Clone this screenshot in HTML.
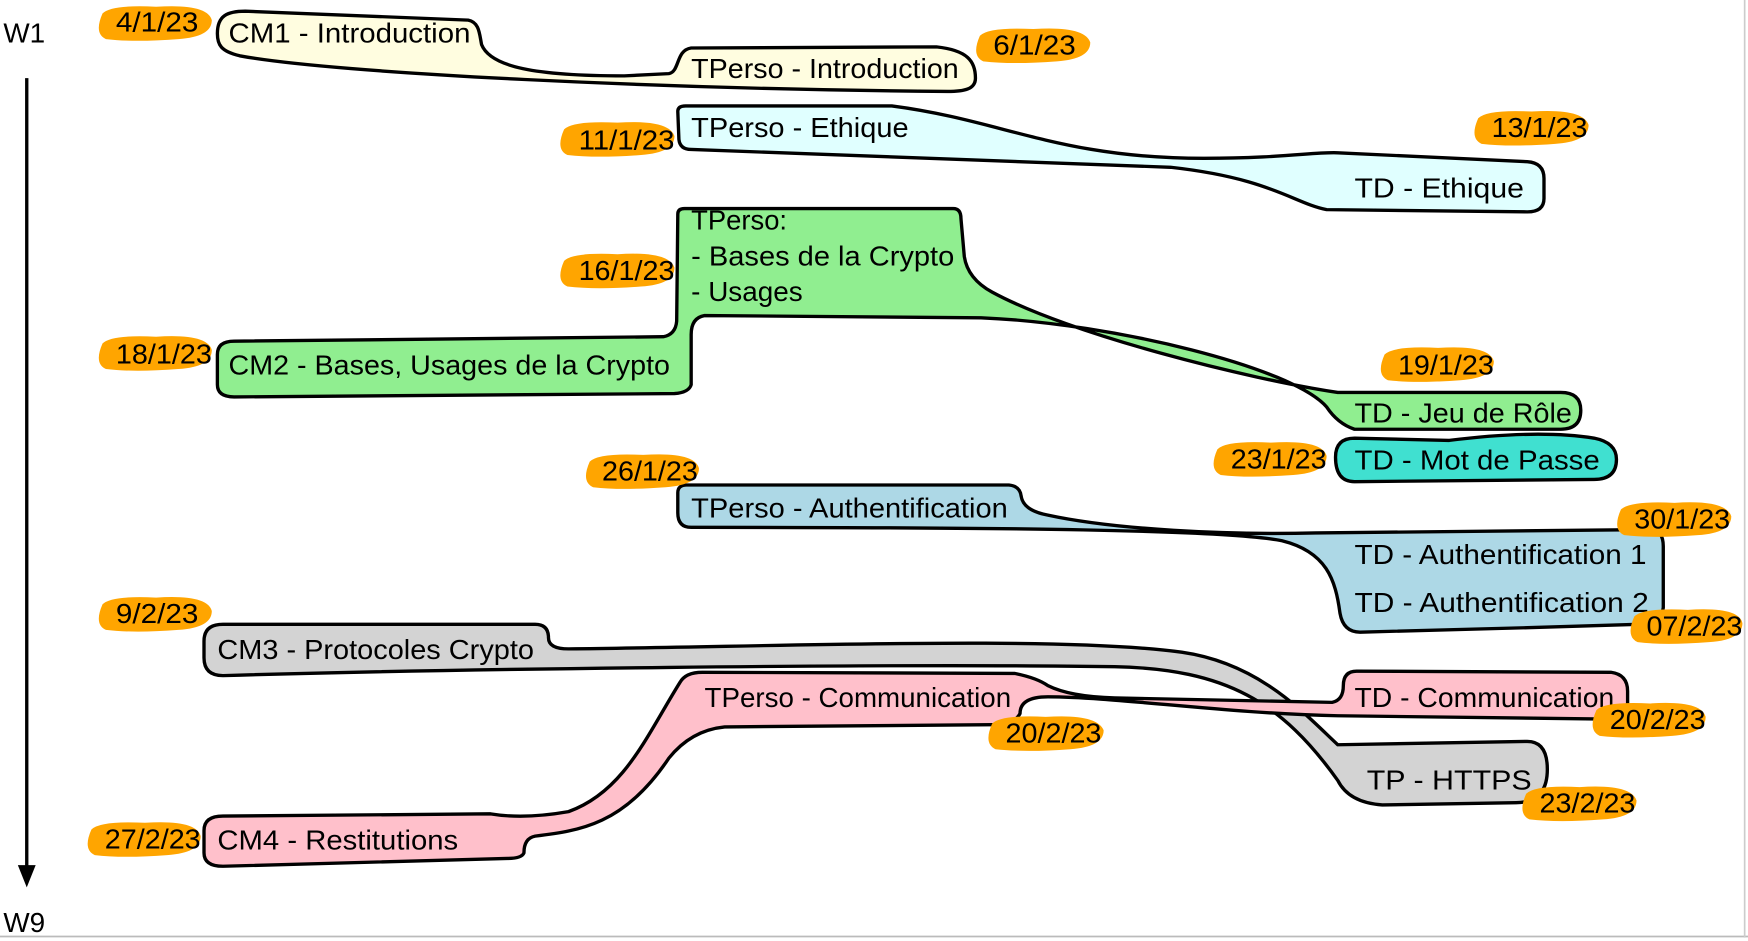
<!DOCTYPE html>
<html><head><meta charset="utf-8"><style>
html,body{margin:0;padding:0;background:#fff;}
svg{display:block}
text{font-family:"Liberation Sans Narrow","Liberation Sans",sans-serif;font-size:25px;fill:#000}
.s{stroke:#000;stroke-width:3;stroke-linejoin:round}
.d{fill:#ffa500}
</style></head><body>
<svg width="1748" height="941" viewBox="0 0 1568 844" xmlns="http://www.w3.org/2000/svg">
<line x1="0" y1="840" x2="1568" y2="840" stroke="#bbb" stroke-width="1.5"/>
<line x1="1565" y1="0" x2="1565" y2="841" stroke="#ccc" stroke-width="1.5"/>
<text x="3" y="38" font-size="24">W1</text>
<line x1="24" y1="70" x2="24" y2="778" stroke="#000" stroke-width="3"/>
<polygon points="16,776 32,776 24,796" fill="#000"/>
<text x="3" y="836" font-size="24">W9</text>

<path class="s" fill="#fffde0" d="M195,30 C195,14 204,10 220,10 L420,18 C430,20 430,30 432,40 C440,60 480,68 560,68 L600,66 C610,64 606,45 620,43 L840,42 C868,45 875,55 875,70 C875,80 865,82 850,82 C600,80 300,66 215,50 C198,46 195,40 195,30 Z"/>
<path class="s" fill="#e0ffff" d="M608,100 Q608,95 615,95 L800,95 C900,108 950,142 1080,142 C1150,142 1180,136 1200,137 L1370,145 Q1385,146 1385,160 L1385,178 Q1385,190 1370,190 L1190,188 C1160,182 1140,160 1050,150 L620,134 Q610,134 609,125 Z"/>
<path class="s" fill="#90ee90" d="M608,192 Q608,187 614,187 L855,187 Q862,187 862,196 L865,230 Q868,250 890,262 C960,300 1120,340 1200,352 L1400,352 Q1418,352 1418,368 Q1418,385 1400,385 L1215,385 Q1200,380 1190,365 C1160,330 1000,290 880,285 L632,283 Q620,285 620,300 L620,345 Q618,352 605,353 L210,356 Q195,356 195,345 L195,318 Q195,306 210,306 L595,302 Q606,300 607,288 Z"/>
<path class="s" fill="#40e0d0" d="M1198,410 Q1198,393 1215,393 L1300,395 Q1380,385 1430,393 Q1450,397 1450,412 Q1450,430 1430,430 L1215,432 Q1198,432 1198,410 Z"/>
<path class="s" fill="#add8e6" d="M608,442 Q608,435 616,435 L905,435 Q915,436 916,445 Q918,458 940,462 C1000,475 1100,480 1180,478 L1480,475 Q1492,475 1492,490 L1492,545 Q1490,560 1470,560 L1370,563 L1220,567 Q1205,567 1202,550 C1198,520 1190,495 1150,485 C1100,475 900,473 620,473 Q608,473 608,460 Z"/>
<path class="s" fill="#d3d3d3" d="M183,575 Q183,560 200,560 L480,560 Q492,560 492,572 Q492,582 510,582 C700,580 950,570 1060,585 C1130,595 1170,640 1200,668 L1370,665 Q1388,665 1388,690 Q1388,720 1360,720 L1240,722 Q1210,720 1200,700 C1150,630 1100,600 1000,598 C800,595 400,600 200,606 Q183,606 183,590 Z"/>
<path class="s" fill="#ffc0cb" d="M183,745 Q183,732 200,732 L440,730 Q470,735 510,728 C560,710 580,660 610,612 Q615,603 630,603 L910,604 Q930,608 940,615 Q960,625 1000,626 L1195,630 Q1205,628 1205,615 Q1205,602 1217,602 L1445,603 Q1460,605 1460,620 L1460,640 Q1460,645 1440,645 L1200,642 C1100,640 1000,625 940,625 Q915,625 915,640 Q910,650 890,650 L650,652 Q620,655 600,680 C560,740 520,745 480,750 Q470,752 470,765 Q468,770 455,770 L200,777 Q183,777 183,765 Z"/>

<text x="205" y="38" textLength="217" lengthAdjust="spacingAndGlyphs">CM1 - Introduction</text>
<text x="620" y="70" textLength="240" lengthAdjust="spacingAndGlyphs">TPerso - Introduction</text>
<text x="620" y="123" textLength="195" lengthAdjust="spacingAndGlyphs">TPerso - Ethique</text>
<text x="1215" y="177" textLength="152" lengthAdjust="spacingAndGlyphs">TD - Ethique</text>
<text x="620" y="206" textLength="86" lengthAdjust="spacingAndGlyphs">TPerso:</text>
<text x="620" y="238" textLength="236" lengthAdjust="spacingAndGlyphs">- Bases de la Crypto</text>
<text x="620" y="270" textLength="100" lengthAdjust="spacingAndGlyphs">- Usages</text>
<text x="205" y="336" textLength="396" lengthAdjust="spacingAndGlyphs">CM2 - Bases, Usages de la Crypto</text>
<text x="1215" y="379" textLength="195" lengthAdjust="spacingAndGlyphs">TD - Jeu de Rôle</text>
<text x="1215" y="421" textLength="220" lengthAdjust="spacingAndGlyphs">TD - Mot de Passe</text>
<text x="620" y="464" textLength="284" lengthAdjust="spacingAndGlyphs">TPerso - Authentification</text>
<text x="1215" y="506" textLength="262" lengthAdjust="spacingAndGlyphs">TD - Authentification 1</text>
<text x="1215" y="549" textLength="264" lengthAdjust="spacingAndGlyphs">TD - Authentification 2</text>
<text x="195" y="591" textLength="284" lengthAdjust="spacingAndGlyphs">CM3 - Protocoles Crypto</text>
<text x="632" y="634" textLength="275" lengthAdjust="spacingAndGlyphs">TPerso - Communication</text>
<text x="1215" y="634" textLength="233" lengthAdjust="spacingAndGlyphs">TD - Communication</text>
<text x="1226" y="708" textLength="148" lengthAdjust="spacingAndGlyphs">TP - HTTPS</text>
<text x="195" y="762" textLength="216" lengthAdjust="spacingAndGlyphs">CM4 - Restitutions</text>

<g>
<path class="d" d="M92,12 Q100,4 140,6 Q186,3 190,18 Q190,33 160,35 Q120,38 95,35 Q84,30 92,12 Z"/>
<text x="104" y="28" textLength="74" lengthAdjust="spacingAndGlyphs">4/1/23</text>
<path class="d" d="M879,32 Q887,24 927,26 Q973,23 978,38 Q978,53 948,55 Q908,58 882,55 Q871,50 879,32 Z"/>
<text x="891" y="49" textLength="74" lengthAdjust="spacingAndGlyphs">6/1/23</text>
<path class="d" d="M506,116 Q514,108 554,110 Q600,107 605,122 Q605,137 575,139 Q535,142 509,139 Q498,134 506,116 Z"/>
<text x="519" y="134" textLength="86" lengthAdjust="spacingAndGlyphs">11/1/23</text>
<path class="d" d="M1326,106 Q1334,98 1374,100 Q1420,97 1425,112 Q1425,127 1395,129 Q1355,132 1329,129 Q1318,124 1326,106 Z"/>
<text x="1338" y="123" textLength="86" lengthAdjust="spacingAndGlyphs">13/1/23</text>
<path class="d" d="M506,234 Q514,226 554,228 Q600,225 605,240 Q605,255 575,257 Q535,260 509,257 Q498,252 506,234 Z"/>
<text x="519" y="251" textLength="86" lengthAdjust="spacingAndGlyphs">16/1/23</text>
<path class="d" d="M92,308 Q100,300 140,302 Q186,299 190,314 Q190,329 160,331 Q120,334 95,331 Q84,326 92,308 Z"/>
<text x="104" y="326" textLength="86" lengthAdjust="spacingAndGlyphs">18/1/23</text>
<path class="d" d="M1242,318 Q1250,310 1290,312 Q1336,309 1340,324 Q1340,339 1310,341 Q1270,344 1245,341 Q1234,336 1242,318 Z"/>
<text x="1254" y="336" textLength="86" lengthAdjust="spacingAndGlyphs">19/1/23</text>
<path class="d" d="M1092,403 Q1100,395 1140,397 Q1186,394 1190,409 Q1190,424 1160,426 Q1120,429 1095,426 Q1084,421 1092,403 Z"/>
<text x="1104" y="420" textLength="86" lengthAdjust="spacingAndGlyphs">23/1/23</text>
<path class="d" d="M529,414 Q537,406 577,408 Q623,405 627,420 Q627,435 597,437 Q557,440 532,437 Q521,432 529,414 Z"/>
<text x="540" y="431" textLength="86" lengthAdjust="spacingAndGlyphs">26/1/23</text>
<path class="d" d="M1454,457 Q1462,449 1502,451 Q1548,448 1553,463 Q1553,478 1523,480 Q1483,483 1457,480 Q1446,475 1454,457 Z"/>
<text x="1466" y="474" textLength="86" lengthAdjust="spacingAndGlyphs">30/1/23</text>
<path class="d" d="M1466,553 Q1474,545 1514,547 Q1560,544 1563,559 Q1563,574 1533,576 Q1493,579 1469,576 Q1458,571 1466,553 Z"/>
<text x="1477" y="570" textLength="86" lengthAdjust="spacingAndGlyphs">07/2/23</text>
<path class="d" d="M92,542 Q100,534 140,536 Q186,533 190,548 Q190,563 160,565 Q120,568 95,565 Q84,560 92,542 Z"/>
<text x="104" y="559" textLength="74" lengthAdjust="spacingAndGlyphs">9/2/23</text>
<path class="d" d="M890,649 Q898,641 938,643 Q984,640 990,655 Q990,670 960,672 Q920,675 893,672 Q882,667 890,649 Z"/>
<text x="902" y="666" textLength="86" lengthAdjust="spacingAndGlyphs">20/2/23</text>
<path class="d" d="M1432,637 Q1440,629 1480,631 Q1526,628 1530,643 Q1530,658 1500,660 Q1460,663 1435,660 Q1424,655 1432,637 Z"/>
<text x="1444" y="654" textLength="86" lengthAdjust="spacingAndGlyphs">20/2/23</text>
<path class="d" d="M1369,712 Q1377,704 1417,706 Q1463,703 1468,718 Q1468,733 1438,735 Q1398,738 1372,735 Q1361,730 1369,712 Z"/>
<text x="1381" y="729" textLength="86" lengthAdjust="spacingAndGlyphs">23/2/23</text>
<path class="d" d="M82,744 Q90,736 130,738 Q176,735 180,750 Q180,765 150,767 Q110,770 85,767 Q74,762 82,744 Z"/>
<text x="94" y="761" textLength="86" lengthAdjust="spacingAndGlyphs">27/2/23</text>
</g>
</svg>
</body></html>
